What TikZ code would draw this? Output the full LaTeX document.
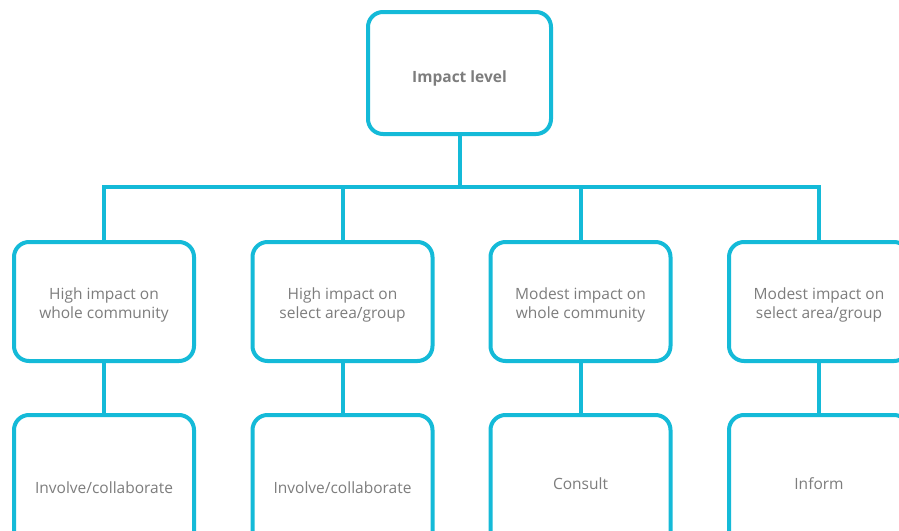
\documentclass[tikz,border=0pt]{standalone}
\usepackage{fontspec}
\setmainfont{Open Sans}
\definecolor{boxcyan}{RGB}{20,186,216}
\definecolor{txtgray}{RGB}{125,125,125}
\newcommand{\shiftv}[2]{\raisebox{#1}[\height][\depth]{#2}}
\newcommand{\twoline}[2]{\begin{tabular}{@{}c@{}}#1\\#2\end{tabular}}
\begin{document}
\begin{tikzpicture}[x=1pt,y=-1pt,
  box/.style={draw=boxcyan, line width=4pt, rounded corners=15pt,
    minimum width=180pt, minimum height=119pt, inner sep=0pt, align=center,
    text=txtgray, font=\fontsize{15.5}{19}\selectfont},
  leafbox/.style={box, minimum height=140pt},
  conn/.style={draw=boxcyan, line width=4pt}]
\useasboundingbox (0,0) rectangle (899,530);
\clip (0,0) rectangle (899,530);
\fill[white] (0,0) rectangle (899,530);
\node[box, minimum width=183pt, minimum height=122pt, font=\fontsize{15.5}{19}\selectfont\bfseries] (top) at (459.5,73) {\shiftv{-5pt}{Impact level}};
\node[box] (a1) at (104,301.5) {\shiftv{-3.5pt}{\twoline{High impact on}{whole community}}};
\node[box] (a2) at (342.5,301.5) {\shiftv{-3.5pt}{\twoline{High impact on}{select area/group}}};
\node[box] (a3) at (580.5,301.5) {\shiftv{-3.5pt}{\twoline{Modest impact on}{whole community}}};
\node[box] (a4) at (819,301.5) {\shiftv{-3.5pt}{\twoline{Modest impact on}{select area/group}}};
\node[leafbox] (b1) at (104,485) {\shiftv{-3pt}{Involve/collaborate}};
\node[leafbox] (b2) at (342.5,485) {\shiftv{-3pt}{Involve/collaborate}};
\node[leafbox] (b3) at (580.5,485) {\shiftv{1pt}{Consult}};
\node[leafbox] (b4) at (819,485) {\shiftv{1pt}{Inform}};
\coordinate (bus) at (459.5,187);
\draw[conn] (top.south) -- (bus);
\draw[conn] (a1.north) -- (a1.north |- bus) -- (a4.north |- bus) -- (a4.north);
\draw[conn] (a2.north) -- (a2.north |- bus);
\draw[conn] (a3.north) -- (a3.north |- bus);
\draw[conn] (a1.south) -- (b1.north);
\draw[conn] (a2.south) -- (b2.north);
\draw[conn] (a3.south) -- (b3.north);
\draw[conn] (a4.south) -- (b4.north);
\end{tikzpicture}
\end{document}
